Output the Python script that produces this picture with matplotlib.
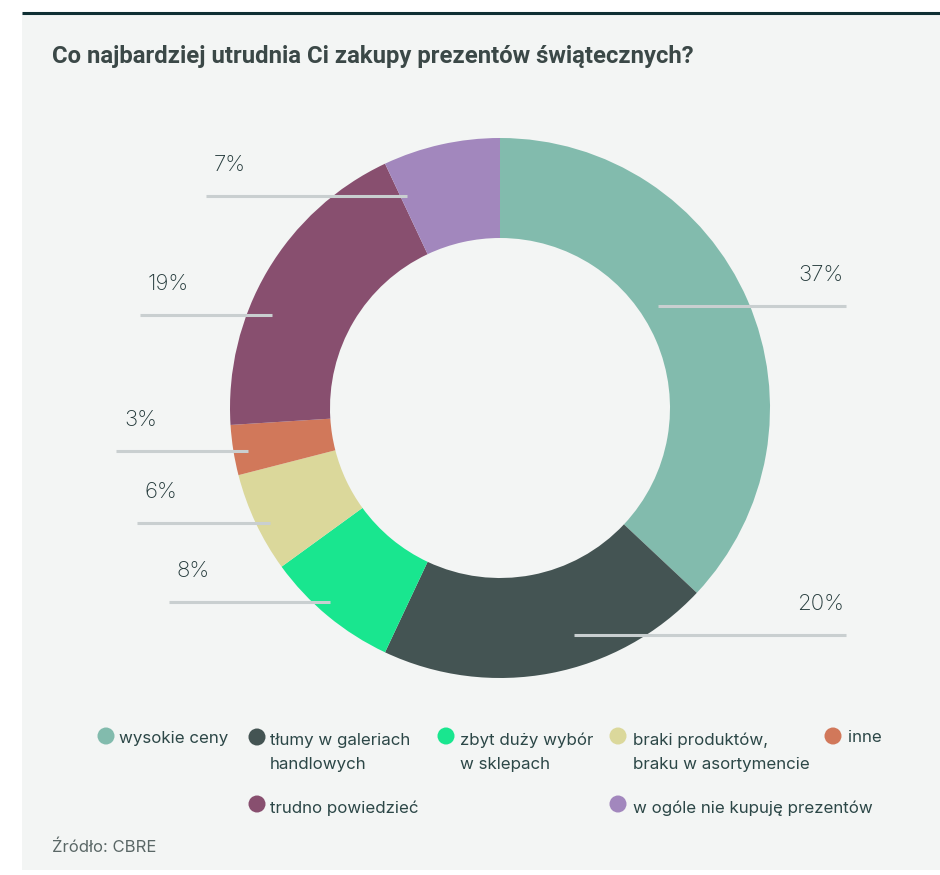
import matplotlib
matplotlib.use("Agg")
import matplotlib.pyplot as plt
from matplotlib.patches import Rectangle

# --- data -------------------------------------------------------------
categories = [
    "wysokie ceny",
    "tłumy w galeriach\nhandlowych",
    "zbyt duży wybór\nw sklepach",
    "braki produktów,\nbraku w asortymencie",
    "inne",
    "trudno powiedzieć",
    "w ogóle nie kupuję prezentów",
]
shares = [37, 20, 8, 6, 3, 19, 7]
colors = ["#82bbad", "#445453", "#19e68f", "#dbd89b", "#d1785a", "#884f6f", "#a287bd"]

title = "Co najbardziej utrudnia Ci zakupy prezentów świątecznych?"
source = "Źródło: CBRE"

# --- layout (pixel units, y measured from top) -------------------------
W, H = 940, 875
CX, CY, R_OUT, RING = 500, 408, 270, 100

# leader lines: (x_start, x_end, y, side)
leaders = [
    (658, 846, 306, "right"),
    (574, 846, 635, "right"),
    (169, 330, 602, "left"),
    (137, 270, 523, "left"),
    (116, 248, 451, "left"),
    (140, 272, 315, "left"),
    (206, 407, 196, "left"),
]
# legend slots: (marker x, marker y, text x, first-line centre y)
legend_slots = [
    (106, 736, 119, 738),
    (257, 737, 270, 740),
    (446, 736, 460, 740),
    (618, 736, 633, 740),
    (833, 736, 848, 738),
    (257, 804, 270, 808),
    (618, 804, 633, 808),
]
LINE_STEP = 25

BG = "#f3f5f4"
TXT = "#23393a"

fig = plt.figure(figsize=(W / 100, H / 100), dpi=100)
fig.patch.set_facecolor("white")
ax = fig.add_axes([0, 0, 1, 1])


def fy(y):
    return H - y


# panel and top rule
ax.add_patch(Rectangle((22, fy(870)), W - 22, 870 - 13, facecolor=BG, edgecolor="none", zorder=0))
ax.plot([22, W], [fy(13), fy(13)], color="#0f2f33", lw=2.2, solid_capstyle="butt", zorder=1)

ax.text(52, fy(56), title, fontsize=17.2, fontweight="bold", family="Roboto",
        color="#3b4847", va="center", ha="left")

# donut
ax.pie(shares, colors=colors, startangle=90, counterclock=False,
       center=(CX, fy(CY)), radius=R_OUT, frame=True,
       wedgeprops=dict(width=RING, linewidth=0, antialiased=True))
ax.set_xlim(0, W)
ax.set_ylim(0, H)
ax.set_aspect("equal")
ax.axis("off")

# leader lines with percentage labels
for val, (x0, x1, y, side) in zip(shares, leaders):
    ax.plot([x0, x1], [fy(y), fy(y)], color="#c9cfd0", lw=2.2, solid_capstyle="butt", zorder=5)
    if side == "right":
        tx, ha = x1 - 2, "right"
    else:
        tx, ha = x0 + 8, "left"
    ax.text(tx, fy(y - 31), f"{val}%", ha=ha, va="center",
            fontsize=16, family="Inter", fontweight="light", color=TXT, zorder=6)

# legend
for cat, col, (mx, my, tx, ty) in zip(categories, colors, legend_slots):
    ax.scatter([mx], [fy(my)], s=150, color=col, edgecolors="none", zorder=6)
    for i, line in enumerate(cat.split("\n")):
        ax.text(tx, fy(ty + i * LINE_STEP), line, ha="left", va="center", fontsize=12.2,
                family="Inter", color="#2c4747", zorder=6)

ax.text(52, fy(847), source, ha="left", va="center", fontsize=12,
        family="Inter", color="#5a6766")

fig.savefig("out.png", dpi=100, facecolor=fig.get_facecolor())
